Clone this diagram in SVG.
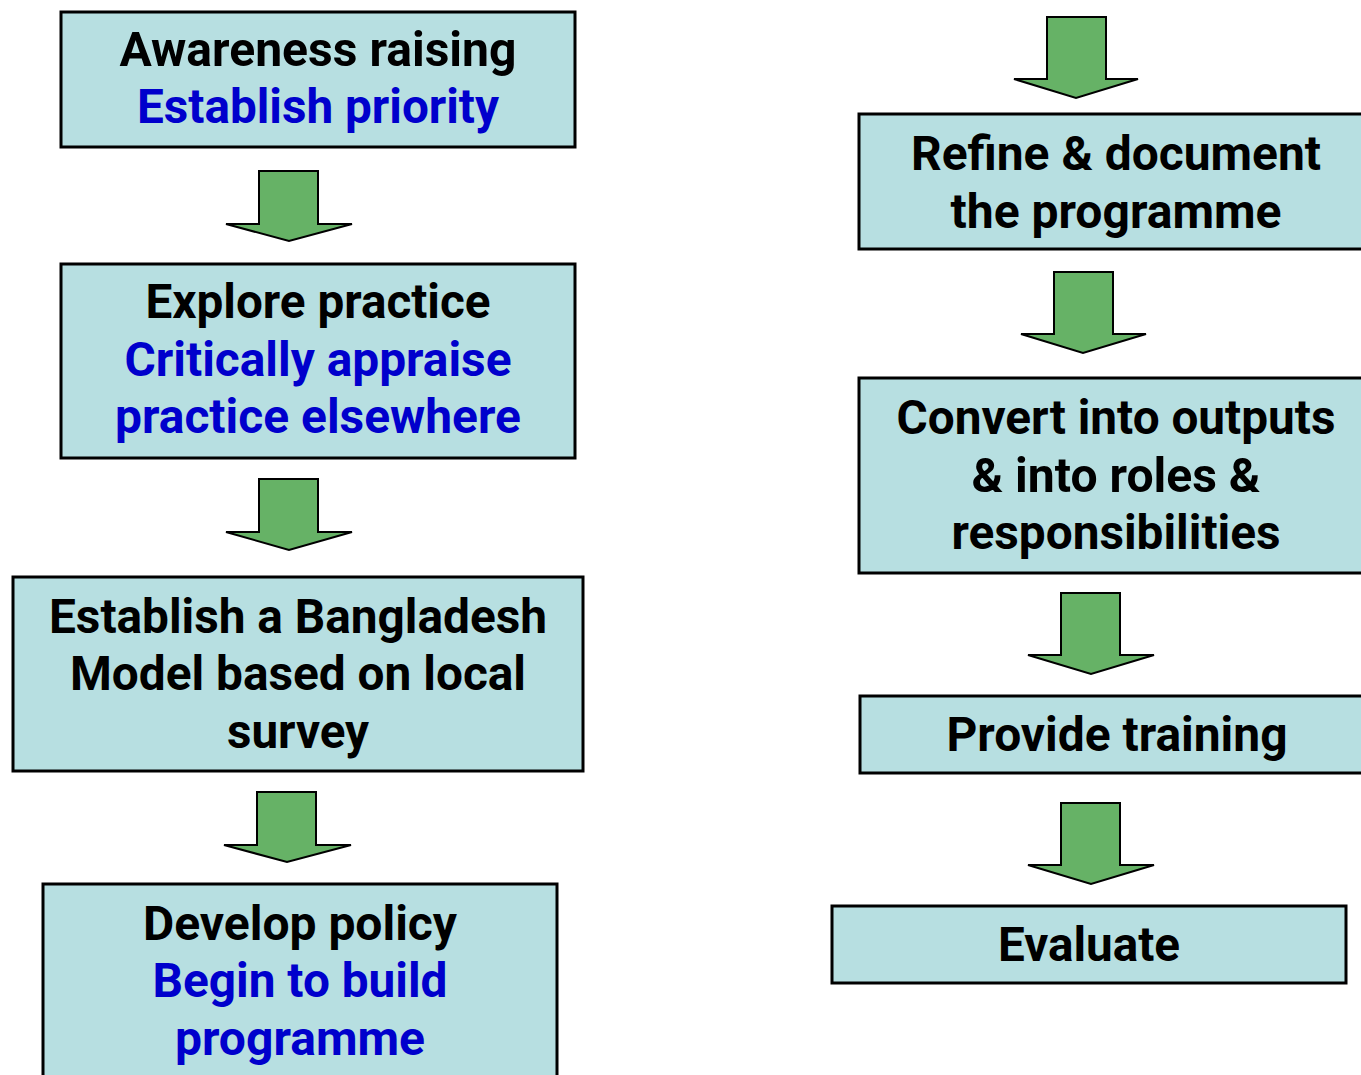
<svg xmlns="http://www.w3.org/2000/svg" width="1361" height="1075" viewBox="0 0 1361 1075">
<style>
.box{fill:#b7dfe1;stroke:#000;stroke-width:3}
.arr{fill:#66b266;stroke:#000;stroke-width:2;stroke-linejoin:miter}
text{font-family:Roboto,"Liberation Sans",sans-serif;font-weight:bold;font-size:48px;text-anchor:middle;fill:#000}
.b{fill:#0000cc}
</style>
<rect width="1361" height="1075" fill="#fff"/>
<g id="connectors">
<polygon class="arr" points="259,171 318,171 318,224 352,224 289,241 226,224 259,224"/>
<polygon class="arr" points="259,479 318,479 318,532 352,532 289,550 226,532 259,532"/>
<polygon class="arr" points="257,792 316,792 316,845 351,845 287,862 224,845 257,845"/>
<polygon class="arr" points="1047,17 1106,17 1106,79 1138,79 1076,98 1014,79 1047,79"/>
<polygon class="arr" points="1054,272 1113,272 1113,334 1146,334 1083,353 1021,334 1054,334"/>
<polygon class="arr" points="1061,593 1120,593 1120,655 1154,655 1091,674 1028,655 1061,655"/>
<polygon class="arr" points="1061,803 1120,803 1120,865 1154,865 1091,884 1028,865 1061,865"/>
</g>
<g id="n1">
<rect class="box" x="61" y="12" width="514" height="135"/>
<text x="318" y="66" textLength="397" lengthAdjust="spacingAndGlyphs">Awareness raising</text>
<text class="b" x="318" y="123" textLength="362" lengthAdjust="spacingAndGlyphs">Establish priority</text>
</g>
<g id="n2">
<rect class="box" x="61" y="264" width="514" height="194"/>
<text x="318" y="318" textLength="345" lengthAdjust="spacingAndGlyphs">Explore practice</text>
<text class="b" x="318" y="376" textLength="387" lengthAdjust="spacingAndGlyphs">Critically appraise</text>
<text class="b" x="318" y="433" textLength="406" lengthAdjust="spacingAndGlyphs">practice elsewhere</text>
</g>
<g id="n3">
<rect class="box" x="13" y="577" width="570" height="194"/>
<text x="298" y="633" textLength="498" lengthAdjust="spacingAndGlyphs">Establish a Bangladesh</text>
<text x="298" y="690" textLength="456" lengthAdjust="spacingAndGlyphs">Model based on local</text>
<text x="298" y="748" textLength="142" lengthAdjust="spacingAndGlyphs">survey</text>
</g>
<g id="n4">
<rect class="box" x="43" y="884" width="514" height="200"/>
<text x="300" y="940" textLength="314" lengthAdjust="spacingAndGlyphs">Develop policy</text>
<text class="b" x="300" y="997" textLength="295" lengthAdjust="spacingAndGlyphs">Begin to build</text>
<text class="b" x="300" y="1055" textLength="250" lengthAdjust="spacingAndGlyphs">programme</text>
</g>
<g id="n5">
<rect class="box" x="859" y="114" width="514" height="135"/>
<text x="1116" y="170" textLength="410" lengthAdjust="spacingAndGlyphs">Refine &amp; document</text>
<text x="1116" y="228" textLength="331" lengthAdjust="spacingAndGlyphs">the programme</text>
</g>
<g id="n6">
<rect class="box" x="859" y="378" width="514" height="195"/>
<text x="1116" y="434" textLength="439" lengthAdjust="spacingAndGlyphs">Convert into outputs</text>
<text x="1116" y="492" textLength="289" lengthAdjust="spacingAndGlyphs">&amp; into roles &amp;</text>
<text x="1116" y="549" textLength="329" lengthAdjust="spacingAndGlyphs">responsibilities</text>
</g>
<g id="n7">
<rect class="box" x="860" y="696" width="514" height="77"/>
<text x="1117" y="751" textLength="341" lengthAdjust="spacingAndGlyphs">Provide training</text>
</g>
<g id="n8">
<rect class="box" x="832" y="906" width="514" height="77"/>
<text x="1089" y="961" textLength="182" lengthAdjust="spacingAndGlyphs">Evaluate</text>
</g>
</svg>
